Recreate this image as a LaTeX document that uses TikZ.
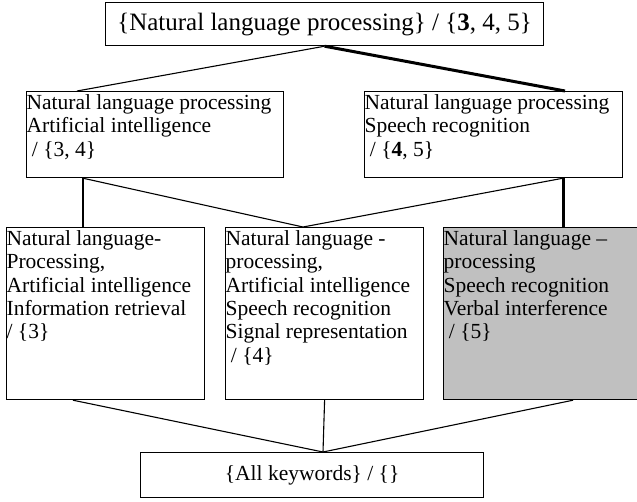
\documentclass[tikz,border=0pt]{standalone}
\usepackage{fontspec}
\setmainfont{Liberation Serif}
\usepackage{xcolor}
\usetikzlibrary{positioning}

\definecolor{cellgray}{RGB}{192,192,192}
% fixed-size cell with top-aligned text
\newcommand{\cellbox}[3]{\begin{minipage}[t][#2][t]{#1}\raggedright\rule{0pt}{18pt}#3\end{minipage}}

\begin{document}
\begin{tikzpicture}[
    x=1pt, y=-1pt,
    box/.style={draw, line width=1.2pt, inner sep=0pt, anchor=north west,
                font=\fontsize{21.5}{23.3}\selectfont},
    hdr/.style={draw, line width=1.2pt, inner sep=0pt, anchor=north west,
                align=center},
    link/.style={line width=1.1pt},
    heavy/.style={line width=3pt}
  ]
    \useasboundingbox (0,0) rectangle (637,501);
    \node[hdr, minimum width=438pt, minimum height=43pt,
          font=\fontsize{25}{27}\selectfont] (top) at (105,2)
          {\{Natural language processing\} / \{\textbf{3}, 4, 5\}};
    \node[box] (ml) at (26,91) {\cellbox{257pt}{86pt}{%
          Natural language processing\\Artificial intelligence\\\ / \{3, 4\}}};
    \node[box] (mr) at (364,91) {\cellbox{258pt}{86pt}{%
          Natural language processing\\Speech recognition\\\ / \{\textbf{4}, 5\}}};
    \node[box] (bl) at (6,227) {\cellbox{198pt}{172pt}{%
          Natural language-\\Processing,\\Artificial intelligence\\Information retrieval\\/ \{3\}}};
    \node[box] (bm) at (225,227) {\cellbox{198pt}{172pt}{%
          Natural language -\\processing,\\Artificial intelligence\\Speech recognition\\Signal representation\\\ / \{4\}}};
    \node[box, fill=cellgray] (br) at (443,227) {\cellbox{198pt}{172pt}{%
          Natural language \textendash\\processing\\Speech recognition\\Verbal interference\\\ / \{5\}}};
    \node[hdr, minimum width=343pt, minimum height=45pt,
          font=\fontsize{21.5}{24}\selectfont] (all) at (140,452)
          {\{All keywords\} / \{\}};

    % top level
    \draw[link] (top.south) -- ([xshift=51pt]ml.north west);
    \draw[heavy] (top.south) -- ([xshift=201pt]mr.north west);
    % middle level
    \draw[link] ([xshift=57pt]ml.south west) -- ([xshift=77pt]bl.north west);
    \draw[link] ([xshift=57pt]ml.south west) -- ([xshift=78pt]bm.north west);
    \draw[link] ([xshift=199pt]mr.south west) -- ([xshift=78pt]bm.north west);
    \draw[heavy] ([xshift=199pt]mr.south west) -- ([xshift=120pt]br.north west);
    % bottom level
    \draw[link] ([xshift=67pt]bl.south west) -- ([xshift=183pt]all.north west);
    \draw[link] (bm.south) -- ([xshift=183pt]all.north west);
    \draw[link] ([xshift=130pt]br.south west) -- ([xshift=183pt]all.north west);
\end{tikzpicture}
\end{document}
